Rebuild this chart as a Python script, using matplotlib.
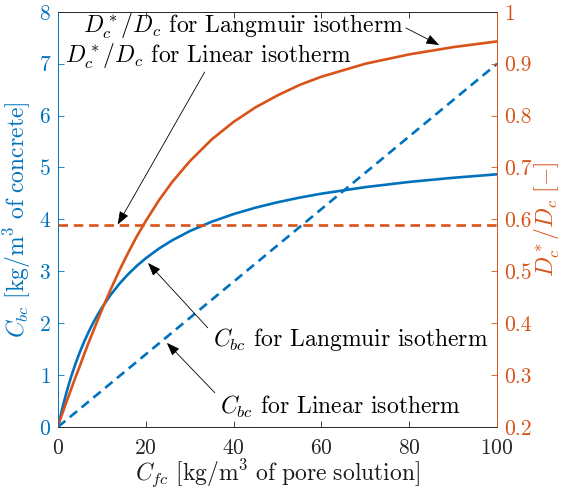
import matplotlib
matplotlib.use("Agg")
import matplotlib.pyplot as plt
from matplotlib.ticker import FuncFormatter

plt.rcParams['font.family'] = ['cmr10', 'DejaVu Serif']
plt.rcParams['mathtext.fontset'] = 'cm'
plt.rcParams['axes.formatter.use_mathtext'] = True

# values
cfc = [0, 1, 2, 3, 4, 5, 6, 7, 8, 9, 10, 12, 14, 16, 18, 20, 23, 26, 30, 35,
       40, 45, 50, 55, 60, 70, 80, 90, 100]
cbc_langmuir = [0, 0.366, 0.686, 0.970, 1.222, 1.448, 1.651, 1.836, 2.004, 2.157, 2.298,
                2.547, 2.760, 2.946, 3.108, 3.251, 3.438, 3.596, 3.774, 3.955,
                4.103, 4.226, 4.330, 4.419, 4.496, 4.622, 4.722, 4.802, 4.869]
d_langmuir = [0.203, 0.226, 0.250, 0.273, 0.296, 0.318, 0.341, 0.363, 0.384, 0.405, 0.426,
              0.465, 0.502, 0.536, 0.568, 0.597, 0.637, 0.672, 0.712, 0.754,
              0.788, 0.816, 0.839, 0.859, 0.875, 0.900, 0.918, 0.932, 0.943]
cfc_lin = [0, 100]
cbc_linear = [0, 7.0]
d_linear = [0.59, 0.59]

blue = '#0072BD'
orange = '#D95319'
dark = '#262626'
fs_tick = 15.5
fs_text = 17

fig = plt.figure(figsize=(5.63, 4.93), dpi=100)
ax = fig.add_axes([0.103, 0.134, 0.78, 0.842])
ax2 = ax.twinx()

ax.plot(cfc, cbc_langmuir, color=blue, lw=1.9)
ax.plot(cfc_lin, cbc_linear, color=blue, lw=1.9, ls=(0, (3.6, 2.2)))
ax2.plot(cfc, d_langmuir, color=orange, lw=1.9)
ax2.plot(cfc_lin, d_linear, color=orange, lw=1.9, ls=(0, (3.6, 2.2)))

ax.set_xlim(0, 100)
ax.set_ylim(0, 8)
ax2.set_ylim(0.2, 1)
ax.set_xticks([0, 20, 40, 60, 80, 100])
ax.set_yticks(range(9))
ax2.set_yticks([0.2, 0.3, 0.4, 0.5, 0.6, 0.7, 0.8, 0.9, 1.0])
ax2.yaxis.set_major_formatter(FuncFormatter(lambda v, p: '%g' % v))

ax.tick_params(axis='x', direction='in', top=True, colors=dark, labelsize=fs_tick,
               length=4, width=0.6, pad=8)
ax.tick_params(axis='y', direction='in', colors=blue, labelsize=fs_tick,
               length=4, width=0.6, pad=5)
ax2.tick_params(axis='y', direction='in', colors=orange, labelsize=fs_tick,
                length=4, width=0.6, pad=5)
for a in (ax, ax2):
    for s in a.spines.values():
        s.set_linewidth(0.6)
    a.spines['bottom'].set_color(dark)
    a.spines['top'].set_color(dark)
    a.spines['left'].set_color(blue)
    a.spines['right'].set_color(orange)

ax.set_xlabel(r'$C_{fc}\ [\mathrm{kg/m^3\ of\ pore\ solution}]$', fontsize=fs_text,
              color='#1a1a1a', labelpad=0)
ax.set_ylabel(r'$C_{bc}\ [\mathrm{kg/m^3\ of\ concrete}]$', fontsize=fs_text,
              color=blue, labelpad=4)
ax2.set_ylabel(r'$D_c^*/D_c\ [-]$', fontsize=fs_text, color=orange, labelpad=1)

# annotations
ax.text(5.6, 7.71, r'$D_c^*/D_c$ for Langmuir isotherm', fontsize=fs_text, va='center', ha='left')
ax.text(1.6, 7.13, r'$D_c^*/D_c$ for Linear isotherm', fontsize=fs_text, va='center', ha='left')
ax.text(35.2, 1.68, r'$C_{bc}$ for Langmuir isotherm', fontsize=fs_text, va='center', ha='left')
ax.text(36.8, 0.39, r'$C_{bc}$ for Linear isotherm', fontsize=fs_text, va='center', ha='left')

arrow = dict(arrowstyle='-|>,head_length=0.8,head_width=0.3', color='k', lw=0.6,
             mutation_scale=10, shrinkA=0, shrinkB=0)
ax2.annotate('', xy=(86.8, 0.936), xytext=(79.2, 0.969), arrowprops=arrow)
ax2.annotate('', xy=(13.6, 0.59), xytext=(33.4, 0.884), arrowprops=arrow)
ax.annotate('', xy=(20.5, 3.16), xytext=(34.1, 1.91), arrowprops=arrow)
ax.annotate('', xy=(24.8, 1.62), xytext=(35.7, 0.66), arrowprops=arrow)

fig.savefig('out.png', dpi=100)
